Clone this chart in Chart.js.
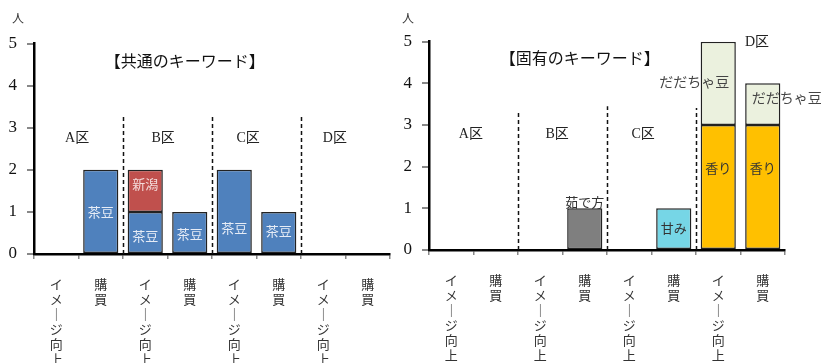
<!DOCTYPE html>
<html>
<head>
<meta charset="utf-8">
<script src="https://cdn.jsdelivr.net/npm/chart.js@4/dist/chart.umd.min.js"></script>
<style>
  html, body { margin: 0; padding: 0; background: #fff; }
  #wrap { position: relative; width: 821px; height: 363px; overflow: hidden; }
  canvas { position: absolute; top: 0; }
  #common { left: 0; }
  #unique { left: 395px; }
</style>
</head>
<body>
<div id="wrap">
  <canvas id="common" width="395" height="363"></canvas>
  <canvas id="unique" width="426" height="363"></canvas>
</div>
<script>
// Categories: each district has an "image" and a "purchase" column
const categories = ["イメージ向上", "購買", "イメージ向上", "購買", "イメージ向上", "購買", "イメージ向上", "購買"];
const districts = ["A区", "B区", "C区", "D区"];
const yTicks = [0, 1, 2, 3, 4, 5];

// 【共通のキーワード】 counts (people)
const commonChamame = [null, 2, 1, 1, 2, 1, null, null];   // 茶豆
const commonNiigata = [null, null, 1, null, null, null, null, null]; // 新潟

// 【固有のキーワード】 counts (people)
const uniqueYudekata = [null, null, null, 1, null, null, null, null]; // 茹で方
const uniqueAmami    = [null, null, null, null, null, 1, null, null]; // 甘み
const uniqueKaori    = [null, null, null, null, null, null, 3, 3];    // 香り
const uniqueDadacha  = [null, null, null, null, null, null, 2, 1];    // だだちゃ豆

// Vertical (tategaki) axis labels: one character per line
const verticalLabel = s => Array.from(s.replace(/ー/g, "｜"));

const SERIF = "'Liberation Serif', 'DejaVu Serif', 'Noto Sans CJK JP', serif";
const GOTHIC = "'Noto Sans CJK JP', 'Noto Sans', sans-serif";

const overlay = {
  id: 'overlay',
  afterDatasetsDraw(chart, args, opts) {
    const { ctx, scales: { x, y } } = chart;
    ctx.save();

    // dashed district separators
    ctx.setLineDash([4, 3]);
    ctx.lineWidth = 1.5;
    ctx.strokeStyle = '#111';
    opts.separators.forEach(s => {
      const px = Math.round(x.getPixelForValue(s.at)) + 0.5;
      ctx.beginPath();
      ctx.moveTo(px, y.getPixelForValue(0));
      ctx.lineTo(px, y.getPixelForValue(s.top));
      ctx.stroke();
    });
    ctx.setLineDash([]);

    ctx.textAlign = 'center';
    ctx.textBaseline = 'middle';

    // district names
    ctx.fillStyle = '#222';
    ctx.font = `14px ${SERIF}`;
    opts.districtLabels.forEach((d, k) => {
      ctx.fillText(districts[k], x.getPixelForValue(d.x), y.getPixelForValue(d.y));
    });

    // panel heading
    ctx.font = `16px ${SERIF}`;
    ctx.fillStyle = '#111';
    ctx.fillText(opts.heading.text, x.getPixelForValue(opts.heading.x), y.getPixelForValue(opts.heading.y));

    // keyword labels on the bars
    opts.barLabels.forEach(l => {
      const ds = chart.data.datasets[l.ds];
      const bar = chart.getDatasetMeta(l.ds).data[l.i];
      const px = bar.x + (l.dx || 0);
      const py = y.getPixelForValue(l.at);
      ctx.font = `${l.size || 13}px ${GOTHIC}`;
      ctx.fillStyle = l.color;
      ctx.fillText(ds.label, px, py);
    });

    // unit label
    ctx.font = `12px ${GOTHIC}`;
    ctx.fillStyle = '#333';
    ctx.fillText('人', chart.chartArea.left - opts.unitDx, 18);

    ctx.restore();
  }
};

function axes(xHeight) {
  return {
    x: {
      stacked: true,
      offset: true,
      grid: { display: true, drawOnChartArea: false, drawTicks: true, tickLength: 5, color: '#888', lineWidth: 1.5, offset: true },
      border: { display: true, color: '#000', width: 2.5 },
      ticks: { color: '#333', font: { family: GOTHIC, size: 13, lineHeight: '15px' }, padding: 18, maxRotation: 0, minRotation: 0, autoSkip: false },
      afterFit(s) { s.height = xHeight; }
    },
    y: {
      stacked: true,
      min: 0,
      max: 5,
      afterBuildTicks(s) { s.ticks = yTicks.map(v => ({ value: v })); },
      grid: { display: true, drawOnChartArea: false, drawTicks: true, tickLength: 7, color: '#888', lineWidth: 2 },
      border: { display: true, color: '#000', width: 2.5 },
      ticks: { color: '#111', font: { family: SERIF, size: 17 }, padding: 10 },
      afterFit(s) { s.width = 34; }
    }
  };
}

const barStyle = { borderColor: '#222', borderWidth: 1.5, barPercentage: 0.79, categoryPercentage: 1, borderSkipped: false };

Chart.defaults.animation = false;

new Chart(document.getElementById('common'), {
  type: 'bar',
  data: {
    labels: categories.map(verticalLabel),
    datasets: [
      { label: '茶豆', data: commonChamame, backgroundColor: '#4F81BD', ...barStyle },
      { label: '新潟', data: commonNiigata, backgroundColor: '#C0504D', ...barStyle }
    ]
  },
  options: {
    responsive: false,
    layout: { padding: { top: 43.5, right: 5, left: 0, bottom: 0 } },
    scales: axes(109),
    plugins: {
      legend: { display: false },
      tooltip: { enabled: false },
      overlay: {
        unitDx: 16,
        heading: { text: '【共通のキーワード】', x: 2.89, y: 4.53 },
        separators: [{ at: 1.5, top: 3.32 }, { at: 3.5, top: 3.32 }, { at: 5.5, top: 3.32 }],
        districtLabels: [{ x: 0.47, y: 2.75 }, { x: 2.4, y: 2.75 }, { x: 4.31, y: 2.75 }, { x: 6.26, y: 2.75 }],
        barLabels: [
          { ds: 0, i: 1, at: 1.0, color: '#E6ECF6' },
          { ds: 0, i: 2, at: 0.43, color: '#E6ECF6' },
          { ds: 0, i: 3, at: 0.47, color: '#E6ECF6' },
          { ds: 0, i: 4, at: 0.62, color: '#E6ECF6' },
          { ds: 0, i: 5, at: 0.55, color: '#E6ECF6' },
          { ds: 1, i: 2, at: 1.66, color: '#F4DCDB' }
        ]
      }
    }
  },
  plugins: [overlay]
});

new Chart(document.getElementById('unique'), {
  type: 'bar',
  data: {
    labels: categories.map(verticalLabel),
    datasets: [
      { label: '茹で方', data: uniqueYudekata, backgroundColor: '#7F7F7F', ...barStyle },
      { label: '甘み', data: uniqueAmami, backgroundColor: '#76D6E6', ...barStyle },
      { label: '香り', data: uniqueKaori, backgroundColor: '#FFC000', ...barStyle },
      { label: 'だだちゃ豆', data: uniqueDadacha, backgroundColor: '#EBF1DE', ...barStyle }
    ]
  },
  options: {
    responsive: false,
    layout: { padding: { top: 41.7, right: 36, left: 0, bottom: 0 } },
    scales: axes(113),
    plugins: {
      legend: { display: false },
      tooltip: { enabled: false },
      overlay: {
        unitDx: 21,
        heading: { text: '【固有のキーワード】', x: 2.89, y: 4.56 },
        separators: [{ at: 1.5, top: 3.33 }, { at: 3.5, top: 3.45 }, { at: 5.5, top: 3.41 }],
        districtLabels: [{ x: 0.44, y: 2.78 }, { x: 2.38, y: 2.78 }, { x: 4.31, y: 2.78 }, { x: 6.87, y: 4.98 }],
        barLabels: [
          { ds: 0, i: 3, at: 1.15, color: '#333' },
          { ds: 1, i: 5, at: 0.53, color: '#333' },
          { ds: 2, i: 6, at: 1.97, color: '#333' },
          { ds: 2, i: 7, at: 1.97, color: '#333' },
          { ds: 3, i: 6, at: 4.05, dx: -24, color: '#444', size: 14 },
          { ds: 3, i: 7, at: 3.65, dx: 24, color: '#444', size: 14 }
        ]
      }
    }
  },
  plugins: [overlay]
});
</script>
</body>
</html>
